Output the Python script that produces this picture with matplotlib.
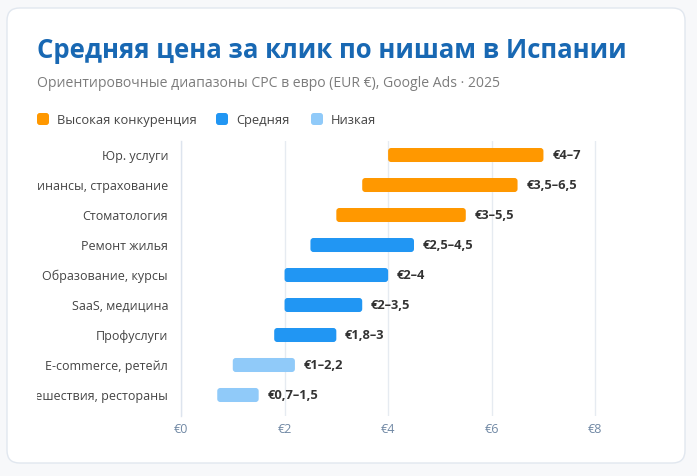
import matplotlib
matplotlib.use("Agg")
import matplotlib.pyplot as plt
from matplotlib.patches import FancyBboxPatch
from matplotlib.transforms import Bbox, TransformedBbox

plt.rcParams['font.family'] = ['Open Sans', 'DejaVu Sans']

# data
niches = ['Юр. услуги', 'Финансы, страхование', 'Стоматология', 'Ремонт жилья',
          'Образование, курсы', 'SaaS, медицина', 'Профуслуги',
          'E-commerce, ретейл', 'Путешествия, рестораны']
cpc_low = [4.0, 3.5, 3.0, 2.5, 2.0, 2.0, 1.8, 1.0, 0.7]
cpc_high = [7.0, 6.5, 5.5, 4.5, 4.0, 3.5, 3.0, 2.2, 1.5]
value_labels = ['€4–7', '€3,5–6,5', '€3–5,5', '€2,5–4,5', '€2–4', '€2–3,5',
                '€1,8–3', '€1–2,2', '€0,7–1,5']
levels = ['high', 'high', 'high', 'mid', 'mid', 'mid', 'mid', 'low', 'low']
level_names = ['Высокая конкуренция', 'Средняя', 'Низкая']
x_ticks = [0, 2, 4, 6, 8]
x_ticklabels = ['€0', '€2', '€4', '€6', '€8']

colors = {'high': '#FF9800', 'mid': '#2196F3', 'low': '#90CAF9'}

W, H = 697, 476
fig = plt.figure(figsize=(W / 100, H / 100), dpi=100)
fig.patch.set_facecolor('#f7f8fa')


def fx(px):
    return px / W


def fy(py):
    return 1 - py / H


# card background
card = FancyBboxPatch((fx(7), fy(463)), fx(685) - fx(7), fy(8) - fy(463),
                      boxstyle='round,pad=0,rounding_size=0.018',
                      mutation_aspect=W / H,
                      transform=fig.transFigure, facecolor='white',
                      edgecolor='#e1e7ef', linewidth=1.0, zorder=-5)
fig.patches.append(card)

# titles
fig.text(fx(37), fy(58), 'Средняя цена за клик по нишам в Испании',
         fontsize=18.5, fontweight='bold', color='#1868b3', va='baseline')
fig.text(fx(37), fy(87), 'Ориентировочные диапазоны CPC в евро (EUR €), Google Ads · 2025',
         fontsize=10.1, color='#7c7c7c', va='baseline')

# legend
leg_x = [37, 216, 311]
for xpx, name, key in zip(leg_x, level_names, ['high', 'mid', 'low']):
    sq = FancyBboxPatch((fx(xpx), fy(125)), fx(12), 12 / H,
                        boxstyle='round,pad=0,rounding_size=0.004',
                        mutation_aspect=W / H,
                        transform=fig.transFigure, facecolor=colors[key],
                        edgecolor='none')
    fig.patches.append(sq)
    fig.text(fx(xpx + 20), fy(124), name, fontsize=9.25, color='#444444',
             va='baseline')

# axes
ax = fig.add_axes([fx(181), fy(416), fx(647) - fx(181), (416 - 141) / H])
ax.set_facecolor('none')
ax.set_xlim(0, 9)
ax.set_ylim(8.7, -0.467)

bar_h = 0.467
px_x = (647 - 181) / 9
px_y = 30.0
r = 3.0 / px_x
for i, (lo, hi, lev, lab) in enumerate(zip(cpc_low, cpc_high, levels, value_labels)):
    p = FancyBboxPatch((lo, i - bar_h / 2), hi - lo, bar_h,
                       boxstyle=f'round,pad=0,rounding_size={r}',
                       mutation_aspect=px_x / px_y,
                       facecolor=colors[lev], edgecolor='none', zorder=3)
    ax.add_patch(p)
    ax.annotate(lab, (hi, i), xytext=(6.3, 0), textcoords='offset points',
                va='center', ha='left', fontsize=9.3, fontweight='bold',
                color='#333333', zorder=4)

ax.set_xticks(x_ticks)
ax.set_xticklabels(x_ticklabels)
ax.set_yticks(range(len(niches)))
ax.set_yticklabels(niches)
ax.grid(axis='x', color='#e6ebf1', linewidth=1.0, zorder=0)
ax.set_axisbelow(True)
for s in ['top', 'right', 'bottom']:
    ax.spines[s].set_visible(False)
ax.spines['left'].set_color('#dde4ee')
ax.spines['left'].set_linewidth(1.0)
ax.tick_params(axis='x', length=0, pad=5, labelsize=9, labelcolor='#7088a4')
ax.tick_params(axis='y', length=0, pad=9.3, labelsize=9, labelcolor='#444444')

# long labels are cut at the card padding
clip = TransformedBbox(Bbox.from_extents(fx(37), 0, 1, 1), fig.transFigure)
for t in ax.get_yticklabels():
    t.set_clip_box(clip)
    t.set_clip_on(True)

fig.savefig('out.png', dpi=100, facecolor=fig.get_facecolor())
